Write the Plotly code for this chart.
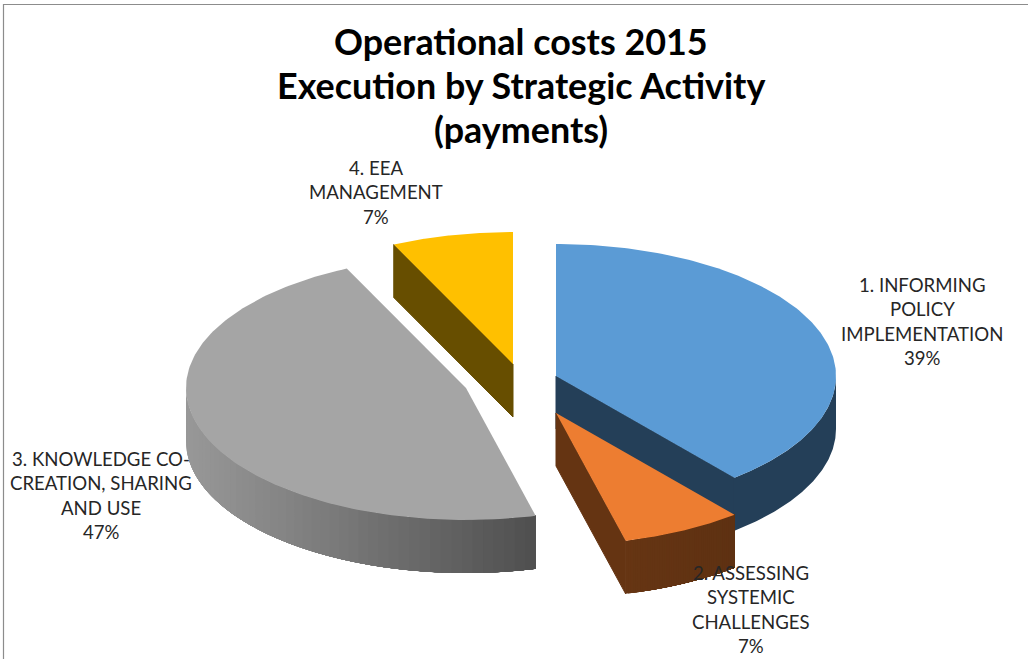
import numpy as np
import plotly.graph_objects as go

# Budget shares per strategic activity, in percent
categories = [
    ["1. INFORMING", "POLICY", "IMPLEMENTATION"],
    ["2. ASSESSING", "SYSTEMIC", "CHALLENGES"],
    ["3. KNOWLEDGE CO-", "CREATION, SHARING", "AND USE"],
    ["4. EEA", "MANAGEMENT"],
]
shares = [39.0, 7.0, 47.0, 7.0]
title_lines = ["Operational costs 2015", "Execution by Strategic Activity", "(payments)"]

top_colours = ["#5B9BD5", "#ED7D31", "#A5A5A5", "#FFC000"]
# Wall shading: (colour at left edge, colour at right edge), RGB
wall_shades = [
    ((36, 63, 88), (36, 63, 88)),
    ((102, 53, 19), (94, 49, 18)),
    ((152, 152, 152), (78, 78, 78)),
    ((103, 78, 0), (103, 78, 0)),
]
cut_colours = ["#243F58", "#653412", "#8A8A8A", "#674E00"]

# Projected pie geometry, in page pixels
centres = [(556, 376), (556, 413), (466, 388), (513, 364)]
label_pos = [(922, 285), (751, 573), (101, 459), (376, 168)]
RX, RY, DEPTH = 280.0, 132.0, 53.0
LABEL_LEADING = 24.4
TITLE_LEADING = 44.0
TITLE_Y = 41.0
CENTRE_X = 521.0


def rim(cx, cy, a0, a1, n=160):
    """Points on the projected rim, angles clockwise from twelve o'clock."""
    t = np.radians(np.linspace(a0, a1, n))
    return cx + RX * np.sin(t), cy - RY * np.cos(t)


def poly(x, y, colour, stroke=0):
    return go.Scatter(
        x=list(x) + [x[0]], y=list(y) + [y[0]], mode="lines", fill="toself",
        fillcolor=colour, line=dict(width=stroke, color=colour),
        hoverinfo="skip", showlegend=False,
    )


def mix(c0, c1, f):
    return "rgb(%d,%d,%d)" % tuple(round(a + (b - a) * f) for a, b in zip(c0, c1))


def wall_strips(i, a0, a1):
    """Outer wall, painted band over band so neighbouring shades leave no seams."""
    lo, hi = max(a0, 90.0), min(a1, 270.0)
    if lo >= hi:
        return []
    cx, cy = centres[i]
    xs_all = rim(cx, cy, lo, hi)[0]
    xmin, xmax = xs_all.min(), xs_all.max()
    c0, c1 = wall_shades[i]
    bands = 1 if c0 == c1 else 48
    edges = np.linspace(hi, lo, bands + 1)  # right-hand end of the arc first
    out = []
    # Each band reaches the far end of the arc and the next one covers its remainder
    for e in edges[:-1]:
        x, y = rim(cx, cy, lo, e, 120)
        f = (x[-1] - xmin) / max(xmax - xmin, 1) if bands > 1 else 0
        out.append(poly(np.r_[x, x[::-1]], np.r_[y, y[::-1] + DEPTH], mix(c0, c1, f)))
    return out


def cut_wall(i, angle):
    cx, cy = centres[i]
    x, y = rim(cx, cy, angle, angle, 1)
    # A hairline stroke closes the gap where this face meets the outer wall
    return poly([cx, x[0], x[0], cx], [cy, y[0], y[0] + DEPTH, cy + DEPTH], cut_colours[i], stroke=1)


edges = np.r_[0, np.cumsum(shares)] * 3.6
fig = go.Figure()

# Painted back to front: blue, orange, yellow, grey
for i in [0, 1, 3, 2]:
    a0, a1 = edges[i], edges[i + 1]
    cx, cy = centres[i]
    if i in (0, 1):
        fig.add_trace(cut_wall(i, a1))
    if i == 3:
        fig.add_trace(cut_wall(i, a0))
    for strip in wall_strips(i, a0, a1):
        fig.add_trace(strip)
    x, y = rim(cx, cy, a0, a1)
    fig.add_trace(poly(np.r_[cx, x], np.r_[cy, y], top_colours[i]))

annotations = []


def add_text(x, y, text, size, colour, bold=False):
    annotations.append(dict(
        x=x, y=y, xref="x", yref="y", text=f"<b>{text}</b>" if bold else text,
        showarrow=False, xanchor="center", yanchor="middle",
        font=dict(family="Lato", size=size, color=colour),
    ))


for k, line in enumerate(title_lines):
    add_text(CENTRE_X, TITLE_Y + k * TITLE_LEADING, line, 35.9, "#000000", bold=True)

for lines, share, (lx, ly) in zip(categories, shares, label_pos):
    for k, line in enumerate(lines + [f"{share:.0f}%"]):
        add_text(lx, ly + k * LABEL_LEADING, line, 18.6, "#262626")

fig.update_layout(
    width=1028, height=659, margin=dict(l=0, r=0, t=0, b=0),
    paper_bgcolor="white", plot_bgcolor="white", showlegend=False,
    xaxis=dict(range=[0, 1028], visible=False, fixedrange=True),
    yaxis=dict(range=[659, 0], visible=False, fixedrange=True),
    annotations=annotations,
    shapes=[dict(type="rect", xref="x", yref="y", x0=3.5, y0=4.5, x1=1040, y1=670,
                 line=dict(color="#8C8C8C", width=1.2), fillcolor="rgba(0,0,0,0)")],
)
fig.write_html("out.html", config=dict(displayModeBar=False))
